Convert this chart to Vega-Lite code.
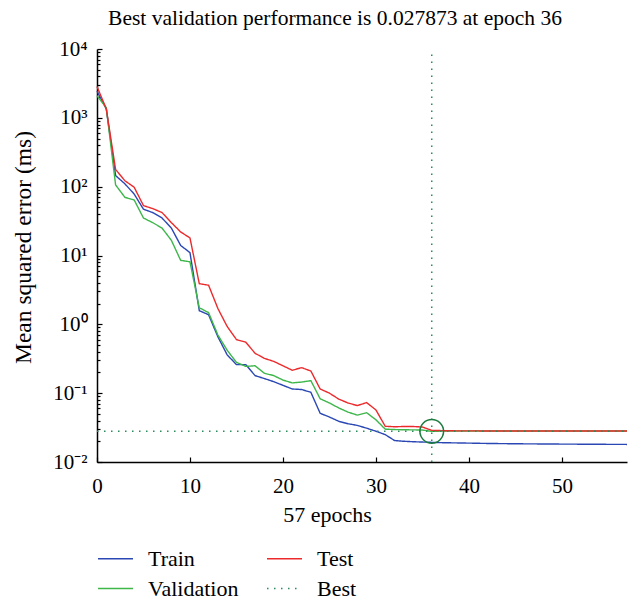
{
  "$schema": "https://vega.github.io/schema/vega-lite/v6.json",
  "width": 530,
  "height": 413,
  "autosize": {"type": "none"},
  "padding": {"left": 97, "top": 49, "right": 7, "bottom": 139},
  "background": "white",
  "config": {
    "font": "Liberation Serif",
    "view": {"stroke": null},
    "axis": {"domainColor": "black", "domainWidth": 1.5, "tickColor": "black", "tickWidth": 1.2, "labelColor": "black", "titleColor": "black", "labelFontSize": 21, "titleFontSize": 22, "titleFontWeight": "normal", "grid": false, "labelFont": "Liberation Serif", "titleFont": "Liberation Serif"}
  },
  "title": {"text": "Best validation performance is 0.027873 at epoch 36", "font": "Liberation Serif", "fontSize": 21.5, "fontWeight": "normal", "color": "black", "anchor": "middle", "dx": -27, "offset": -8, "baseline": "alphabetic"},
  "datasets": {
    "train": [
      {"epoch": 0, "mse": 2450, "series": "Train"}, {"epoch": 1, "mse": 1340, "series": "Train"}, {"epoch": 2, "mse": 145, "series": "Train"}, {"epoch": 3, "mse": 110, "series": "Train"}, {"epoch": 4, "mse": 78, "series": "Train"}, {"epoch": 5, "mse": 47, "series": "Train"}, {"epoch": 6, "mse": 42, "series": "Train"}, {"epoch": 7, "mse": 35, "series": "Train"}, {"epoch": 8, "mse": 25, "series": "Train"}, {"epoch": 9, "mse": 14, "series": "Train"}, {"epoch": 10, "mse": 11, "series": "Train"}, {"epoch": 11, "mse": 1.58, "series": "Train"}, {"epoch": 12, "mse": 1.38, "series": "Train"}, {"epoch": 13, "mse": 0.66, "series": "Train"}, {"epoch": 14, "mse": 0.36, "series": "Train"}, {"epoch": 15, "mse": 0.26, "series": "Train"}, {"epoch": 16, "mse": 0.26, "series": "Train"}, {"epoch": 17, "mse": 0.18, "series": "Train"}, {"epoch": 18, "mse": 0.163, "series": "Train"}, {"epoch": 19, "mse": 0.147, "series": "Train"}, {"epoch": 20, "mse": 0.13, "series": "Train"}, {"epoch": 21, "mse": 0.115, "series": "Train"}, {"epoch": 22, "mse": 0.113, "series": "Train"}, {"epoch": 23, "mse": 0.103, "series": "Train"}, {"epoch": 24, "mse": 0.051, "series": "Train"}, {"epoch": 25, "mse": 0.045, "series": "Train"}, {"epoch": 26, "mse": 0.039, "series": "Train"}, {"epoch": 27, "mse": 0.036, "series": "Train"}, {"epoch": 28, "mse": 0.034, "series": "Train"}, {"epoch": 29, "mse": 0.031, "series": "Train"}, {"epoch": 30, "mse": 0.028, "series": "Train"}, {"epoch": 31, "mse": 0.025, "series": "Train"}, {"epoch": 32, "mse": 0.0205, "series": "Train"}, {"epoch": 33, "mse": 0.02, "series": "Train"}, {"epoch": 34, "mse": 0.0197, "series": "Train"}, {"epoch": 35, "mse": 0.0195, "series": "Train"}, {"epoch": 36, "mse": 0.0193, "series": "Train"}, {"epoch": 37, "mse": 0.0191, "series": "Train"}, {"epoch": 38, "mse": 0.019, "series": "Train"}, {"epoch": 39, "mse": 0.0189, "series": "Train"}, {"epoch": 40, "mse": 0.0188, "series": "Train"}, {"epoch": 42, "mse": 0.0186, "series": "Train"}, {"epoch": 45, "mse": 0.0184, "series": "Train"}, {"epoch": 50, "mse": 0.0182, "series": "Train"}, {"epoch": 57, "mse": 0.018, "series": "Train"}
    ],
    "validation": [
      {"epoch": 0, "mse": 2100, "series": "Validation"}, {"epoch": 1, "mse": 1400, "series": "Validation"}, {"epoch": 2, "mse": 106, "series": "Validation"}, {"epoch": 3, "mse": 70, "series": "Validation"}, {"epoch": 4, "mse": 64, "series": "Validation"}, {"epoch": 5, "mse": 35, "series": "Validation"}, {"epoch": 6, "mse": 30, "series": "Validation"}, {"epoch": 7, "mse": 25, "series": "Validation"}, {"epoch": 8, "mse": 16.6, "series": "Validation"}, {"epoch": 9, "mse": 8.5, "series": "Validation"}, {"epoch": 10, "mse": 8.1, "series": "Validation"}, {"epoch": 11, "mse": 1.74, "series": "Validation"}, {"epoch": 12, "mse": 1.48, "series": "Validation"}, {"epoch": 13, "mse": 0.7, "series": "Validation"}, {"epoch": 14, "mse": 0.42, "series": "Validation"}, {"epoch": 15, "mse": 0.28, "series": "Validation"}, {"epoch": 16, "mse": 0.245, "series": "Validation"}, {"epoch": 17, "mse": 0.25, "series": "Validation"}, {"epoch": 18, "mse": 0.195, "series": "Validation"}, {"epoch": 19, "mse": 0.18, "series": "Validation"}, {"epoch": 20, "mse": 0.155, "series": "Validation"}, {"epoch": 21, "mse": 0.141, "series": "Validation"}, {"epoch": 22, "mse": 0.145, "series": "Validation"}, {"epoch": 23, "mse": 0.152, "series": "Validation"}, {"epoch": 24, "mse": 0.083, "series": "Validation"}, {"epoch": 25, "mse": 0.072, "series": "Validation"}, {"epoch": 26, "mse": 0.061, "series": "Validation"}, {"epoch": 27, "mse": 0.053, "series": "Validation"}, {"epoch": 28, "mse": 0.048, "series": "Validation"}, {"epoch": 29, "mse": 0.052, "series": "Validation"}, {"epoch": 30, "mse": 0.041, "series": "Validation"}, {"epoch": 31, "mse": 0.03, "series": "Validation"}, {"epoch": 32, "mse": 0.0296, "series": "Validation"}, {"epoch": 33, "mse": 0.0294, "series": "Validation"}, {"epoch": 34, "mse": 0.0293, "series": "Validation"}, {"epoch": 35, "mse": 0.0291, "series": "Validation"}, {"epoch": 36, "mse": 0.027873, "series": "Validation"}, {"epoch": 37, "mse": 0.0281, "series": "Validation"}, {"epoch": 38, "mse": 0.0281, "series": "Validation"}, {"epoch": 40, "mse": 0.0282, "series": "Validation"}, {"epoch": 45, "mse": 0.0282, "series": "Validation"}, {"epoch": 50, "mse": 0.0282, "series": "Validation"}, {"epoch": 57, "mse": 0.0282, "series": "Validation"}
    ],
    "test": [
      {"epoch": 0, "mse": 2850, "series": "Test"}, {"epoch": 1, "mse": 1350, "series": "Test"}, {"epoch": 2, "mse": 178, "series": "Test"}, {"epoch": 3, "mse": 122, "series": "Test"}, {"epoch": 4, "mse": 98, "series": "Test"}, {"epoch": 5, "mse": 53, "series": "Test"}, {"epoch": 6, "mse": 48, "series": "Test"}, {"epoch": 7, "mse": 42, "series": "Test"}, {"epoch": 8, "mse": 30, "series": "Test"}, {"epoch": 9, "mse": 22, "series": "Test"}, {"epoch": 10, "mse": 18, "series": "Test"}, {"epoch": 11, "mse": 3.9, "series": "Test"}, {"epoch": 12, "mse": 3.7, "series": "Test"}, {"epoch": 13, "mse": 1.7, "series": "Test"}, {"epoch": 14, "mse": 0.93, "series": "Test"}, {"epoch": 15, "mse": 0.6, "series": "Test"}, {"epoch": 16, "mse": 0.55, "series": "Test"}, {"epoch": 17, "mse": 0.38, "series": "Test"}, {"epoch": 18, "mse": 0.32, "series": "Test"}, {"epoch": 19, "mse": 0.29, "series": "Test"}, {"epoch": 20, "mse": 0.25, "series": "Test"}, {"epoch": 21, "mse": 0.215, "series": "Test"}, {"epoch": 22, "mse": 0.235, "series": "Test"}, {"epoch": 23, "mse": 0.21, "series": "Test"}, {"epoch": 24, "mse": 0.115, "series": "Test"}, {"epoch": 25, "mse": 0.1, "series": "Test"}, {"epoch": 26, "mse": 0.082, "series": "Test"}, {"epoch": 27, "mse": 0.072, "series": "Test"}, {"epoch": 28, "mse": 0.066, "series": "Test"}, {"epoch": 29, "mse": 0.073, "series": "Test"}, {"epoch": 30, "mse": 0.057, "series": "Test"}, {"epoch": 31, "mse": 0.033, "series": "Test"}, {"epoch": 32, "mse": 0.0325, "series": "Test"}, {"epoch": 33, "mse": 0.0328, "series": "Test"}, {"epoch": 34, "mse": 0.0328, "series": "Test"}, {"epoch": 35, "mse": 0.0322, "series": "Test"}, {"epoch": 36, "mse": 0.0288, "series": "Test"}, {"epoch": 37, "mse": 0.0286, "series": "Test"}, {"epoch": 38, "mse": 0.0284, "series": "Test"}, {"epoch": 40, "mse": 0.0283, "series": "Test"}, {"epoch": 45, "mse": 0.0282, "series": "Test"}, {"epoch": 50, "mse": 0.0282, "series": "Test"}, {"epoch": 57, "mse": 0.0282, "series": "Test"}
    ],
    "best": [
      {"epoch": 0, "mse": 0.027873, "series": "Best", "seg": "h"},
      {"epoch": 57, "mse": 0.027873, "series": "Best", "seg": "h"},
      {"epoch": 36, "mse": 0.01, "series": "Best", "seg": "v"},
      {"epoch": 36, "mse": 10000, "series": "Best", "seg": "v"}
    ],
    "bestpoint": [
      {"epoch": 36, "mse": 0.027873}
    ]
  },
  "encoding": {
    "x": {
      "field": "epoch", "type": "quantitative",
      "scale": {"domain": [0, 57], "nice": false, "zero": false},
      "axis": {"values": [0, 10, 20, 30, 40, 50], "tickSize": -5, "labelPadding": 35, "labelBaseline": "alphabetic", "labelFlush": false, "title": "57 epochs", "titleX": 230, "titleY": 59, "titleBaseline": "alphabetic"}
    },
    "y": {
      "field": "mse", "type": "quantitative",
      "scale": {"type": "log", "domain": [0.01, 10000], "nice": false},
      "axis": {
        "values": [0.01, 0.02, 0.03, 0.04, 0.05, 0.06, 0.07, 0.08, 0.09, 0.1, 0.2, 0.3, 0.4, 0.5, 0.6, 0.7, 0.8, 0.9, 1, 2, 3, 4, 5, 6, 7, 8, 9, 10, 20, 30, 40, 50, 60, 70, 80, 90, 100, 200, 300, 400, 500, 600, 700, 800, 900, 1000, 2000, 3000, 4000, 5000, 6000, 7000, 8000, 9000, 10000],
        "labelExpr": "datum.value == 0.01 ? '10⁻²' : datum.value == 0.1 ? '10⁻¹' : datum.value == 1 ? '10⁰' : datum.value == 10 ? '10¹' : datum.value == 100 ? '10²' : datum.value == 1000 ? '10³' : datum.value == 10000 ? '10⁴' : ''",
        "tickSize": {"condition": {"test": "indexof([0.01, 0.1, 1, 10, 100, 1000, 10000], datum.value) >= 0", "value": -5}, "value": -3},
        "labelPadding": 15,
        "labelFlush": false,
        "labelOverlap": false,
        "title": "Mean squared error (ms)",
        "titleFontSize": 23.5,
        "titleX": -74,
        "titleY": 198,
        "titleBaseline": "middle"
      }
    }
  },
  "layer": [
    {
      "data": {"name": "train"},
      "mark": {"type": "line", "strokeWidth": 1.4},
      "encoding": {
        "color": {"field": "series", "type": "nominal", "scale": {"domain": ["Train", "Validation", "Test", "Best"], "range": ["#2a47b3", "#3db64a", "#ec2a2c", "#2a8c5a"]}, "legend": {"orient": "none", "legendX": 0, "legendY": 491, "columns": 2, "symbolType": "stroke", "symbolSize": 1225, "symbolStrokeWidth": 1.5, "labelFontSize": 22, "labelFont": "Liberation Serif", "labelColor": "black", "labelOffset": 14, "columnPadding": 25, "rowPadding": -3, "title": null}},
        "strokeDash": {"field": "series", "type": "nominal", "scale": {"domain": ["Train", "Validation", "Test", "Best"], "range": [[1, 0], [1, 0], [1, 0], [1.5, 5.5]]}, "legend": {"orient": "none", "legendX": 0, "legendY": 491, "columns": 2, "symbolType": "stroke", "symbolSize": 1225, "symbolStrokeWidth": 1.5, "labelFontSize": 22, "labelFont": "Liberation Serif", "labelColor": "black", "labelOffset": 14, "columnPadding": 25, "rowPadding": -3, "title": null}}
      }
    },
    {
      "data": {"name": "validation"},
      "mark": {"type": "line", "strokeWidth": 1.4},
      "encoding": {
        "color": {"field": "series", "type": "nominal"},
        "strokeDash": {"field": "series", "type": "nominal"}
      }
    },
    {
      "data": {"name": "test"},
      "mark": {"type": "line", "strokeWidth": 1.4},
      "encoding": {
        "color": {"field": "series", "type": "nominal"},
        "strokeDash": {"field": "series", "type": "nominal"}
      }
    },
    {
      "data": {"name": "best"},
      "mark": {"type": "line", "strokeWidth": 1.5},
      "encoding": {
        "color": {"field": "series", "type": "nominal"},
        "strokeDash": {"field": "series", "type": "nominal"},
        "detail": {"field": "seg", "type": "nominal"}
      }
    },
    {
      "data": {"name": "bestpoint"},
      "mark": {"type": "point", "shape": "circle", "size": 560, "filled": false, "stroke": "#1b7a3e", "strokeWidth": 1.5, "opacity": 1}
    }
  ]
}
